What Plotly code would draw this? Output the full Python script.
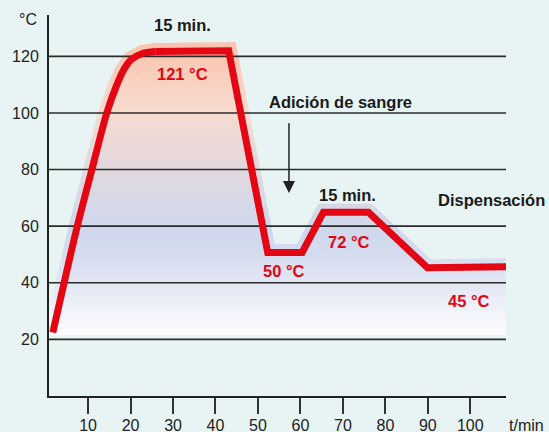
import numpy as np
import plotly.graph_objects as go

# ---- data ----
time_min = [1.7, 7.3, 10.9, 14.4, 16.6, 18.3, 20.2, 22.8, 25.8, 43.1, 52.3, 60.4, 65.4, 76.0, 89.9, 108.6]
temp_c = [22.4, 59.0, 80.0, 100.0, 109.3, 115.0, 118.9, 121.0, 121.7, 122.0, 50.7, 50.7, 64.9, 64.9, 45.3, 45.7]
heat_up_points = 9  # the first points form the smooth heating curve

x_ticks = [10, 20, 30, 40, 50, 60, 70, 80, 90, 100]
y_ticks = [20, 40, 60, 80, 100, 120]

phase_labels = ["15 min.", "Adición de sangre", "15 min.", "Dispensación"]
phase_x = [32.2, 69.5, 71.0, 92.0]
phase_y = [131.1, 104.0, 71.0, 69.1]
phase_anchor = ["center", "center", "center", "left"]

temp_labels = ["121 °C", "50 °C", "72 °C", "45 °C"]
temp_lx = [32.2, 56.2, 71.4, 99.7]
temp_ly = [113.8, 44.3, 54.5, 33.7]

arrow_x = 57.3
arrow_from = 96.9
arrow_to = 71.7

# ---- layout constants ----
W, H = 549, 432
ML, MR, MT, MB = 49, 43, 15, 36
XR = [0.8, 108.4]
YR = [0, 134.6]
BASE = 21.5
HALO = 8.5
HALO_END = 6.0
RED = "#e30613"
BG = "#e7f4f3"
FONT = "Liberation Sans, Arial, Helvetica, sans-serif"

sx = (W - ML - MR) / (XR[1] - XR[0])
sy = (H - MT - MB) / (YR[1] - YR[0])

# offset outline (halo) of the curve, computed in pixel space
P = np.column_stack([np.array(time_min) * sx, np.array(temp_c) * sy])
seg = np.diff(P, axis=0)
seg /= np.linalg.norm(seg, axis=1)[:, None]
nrm = np.column_stack([-seg[:, 1], seg[:, 0]])
off = []
for i in range(len(P)):
    if i == 0:
        n, kk = nrm[0], 1.0
    elif i == len(P) - 1:
        n, kk = nrm[-1], 1.0
    else:
        m = nrm[i - 1] + nrm[i]
        m /= np.linalg.norm(m)
        kk = 1.0 / max(float(np.dot(m, nrm[i])), 0.5)
        n = m
    off.append(P[i] + n * HALO * kk)
off = np.array(off)
hx = list(off[:, 0] / sx)
hy = list(off[:, 1] / sy)
end_x = hx[-1] + HALO_END / sx
poly_x = hx + [end_x, end_x, hx[0]]
poly_y = hy + [hy[-1], BASE, BASE]

TOP = 128.0
stops = [(21.5, "#fbfcfe"), (30, "#f1f3fa"), (40, "#e3e7f4"), (50, "#d5dcef"),
         (58, "#cfd8ec"), (68, "#d7d8e8"), (80, "#e3d8de"), (90, "#ecd9d6"),
         (100, "#f6dcd0"), (110, "#f9d2c2"), (121, "#f9c6b2"), (128, "#f9c4b0")]
cscale = [[(t - BASE) / (TOP - BASE), c] for t, c in stops]

fig = go.Figure()
fig.add_trace(go.Scatter(
    x=poly_x, y=poly_y, mode="lines", fill="toself", line=dict(width=0),
    fillgradient=dict(type="vertical", colorscale=cscale, start=BASE, stop=TOP),
    hoverinfo="skip", showlegend=False))

gx, gy = [], []
for v in y_ticks:
    gx += [XR[0], XR[1], None]
    gy += [v, v, None]
fig.add_trace(go.Scatter(x=gx, y=gy, mode="lines", line=dict(color="#2b2b2b", width=1.6),
                         hoverinfo="skip", showlegend=False))

k = heat_up_points
fig.add_trace(go.Scatter(x=time_min[:k], y=temp_c[:k], mode="lines",
                         line=dict(color=RED, width=7, shape="spline", smoothing=0.8),
                         hoverinfo="skip", showlegend=False))
fig.add_trace(go.Scatter(x=time_min[k - 1:], y=temp_c[k - 1:], mode="lines",
                         line=dict(color=RED, width=7),
                         hoverinfo="skip", showlegend=False))

ann = []
for t, x, y, a in zip(phase_labels, phase_x, phase_y, phase_anchor):
    ann.append(dict(x=x, y=y, xref="x", yref="y", text=f"<b>{t}</b>", showarrow=False,
                    xanchor=a, yanchor="middle", font=dict(size=16.5, color="#1a1a1a", family=FONT)))
for t, x, y in zip(temp_labels, temp_lx, temp_ly):
    ann.append(dict(x=x, y=y, xref="x", yref="y", text=f"<b>{t}</b>", showarrow=False,
                    xanchor="center", yanchor="middle", font=dict(size=16.5, color=RED, family=FONT)))
ann.append(dict(x=arrow_x, y=arrow_to, ax=arrow_x, ay=arrow_from, xref="x", yref="y",
                axref="x", ayref="y", text="", showarrow=True, arrowhead=2, arrowsize=1.6,
                arrowwidth=1.5, arrowcolor="#222"))
ann.append(dict(x=-0.022, y=0.987, xref="paper", yref="paper", text="°C", showarrow=False,
                xanchor="right", yanchor="middle", font=dict(size=16, color="#222", family=FONT)))
ann.append(dict(x=1.002, y=-0.078, xref="paper", yref="paper", text="t/min", showarrow=False,
                xanchor="left", yanchor="middle", font=dict(size=16, color="#222", family=FONT)))

fig.update_layout(
    width=W, height=H, margin=dict(l=ML, r=MR, t=MT, b=MB, autoexpand=False),
    paper_bgcolor=BG, plot_bgcolor=BG, annotations=ann,
    font=dict(family=FONT, size=16, color="#222"),
    xaxis=dict(range=XR, tickvals=x_ticks, showgrid=False, zeroline=False, showline=True,
               linecolor="#222", linewidth=2, ticks="outside", ticklen=16, tickwidth=2,
               tickcolor="#333", tickfont=dict(size=16, color="#222"), automargin=False,
               ticklabelstandoff=-2),
    yaxis=dict(range=YR, tickvals=y_ticks, showgrid=False, zeroline=False, showline=True,
               linecolor="#222", linewidth=2, ticks="", ticklabelstandoff=5,
               tickfont=dict(size=16, color="#222"), automargin=False),
)

fig.write_html("out.html", config={"displayModeBar": False},
               post_script="document.body.style.margin='0';document.body.style.background='" + BG + "';")
